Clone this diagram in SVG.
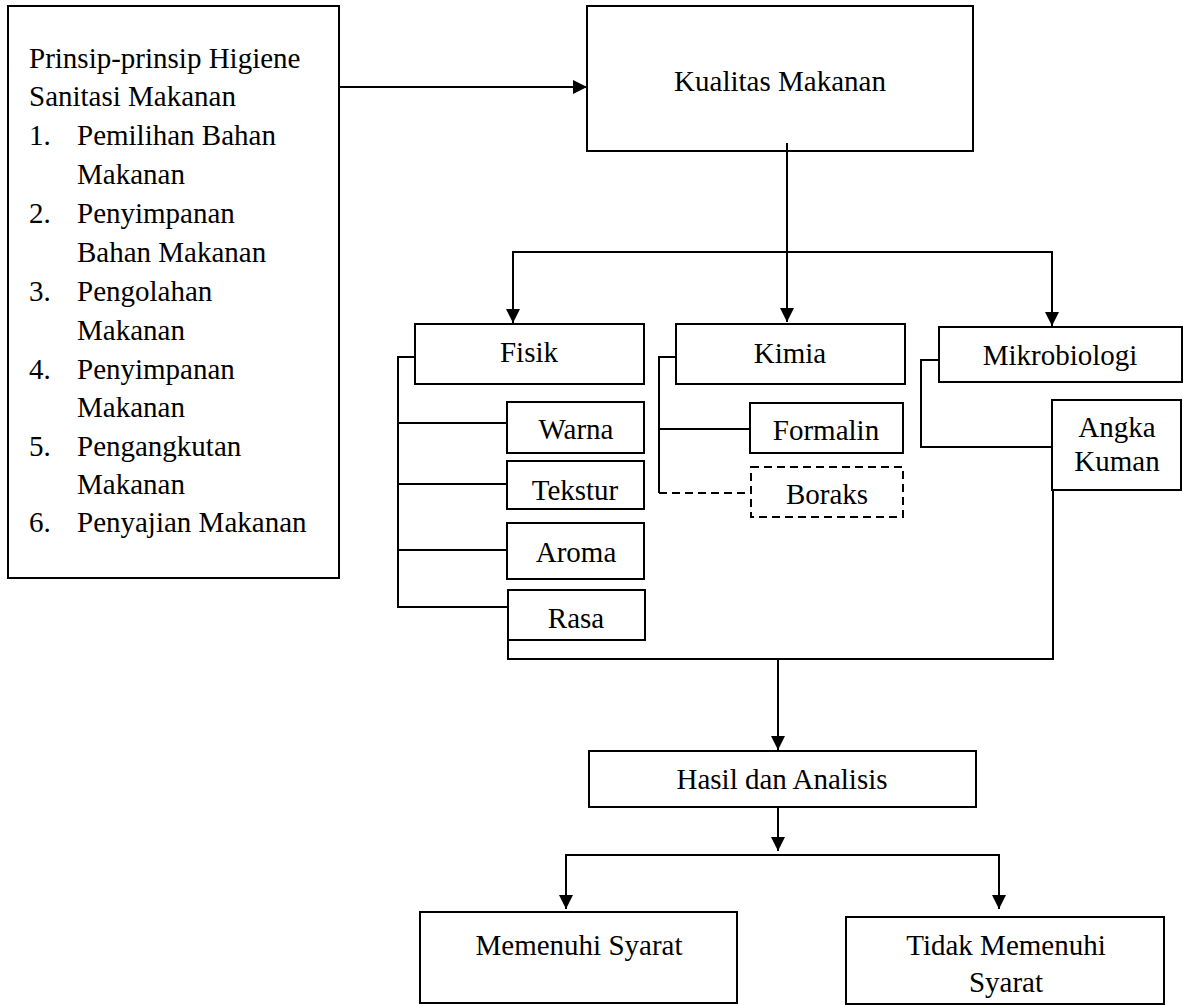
<svg xmlns="http://www.w3.org/2000/svg" width="1183" height="1005" viewBox="0 0 1183 1005">
<style>
.box{fill:#fff;stroke:#000;stroke-width:2}
.dash{fill:#fff;stroke:#000;stroke-width:2;stroke-dasharray:8 5}
.ln{fill:none;stroke:#000;stroke-width:2}
.dl{fill:none;stroke:#000;stroke-width:2;stroke-dasharray:8 5}
text{font-family:"Liberation Serif","Times New Roman",serif;font-size:29px;fill:#000}
.c{text-anchor:middle}
</style>
<defs>
<marker id="ah" markerUnits="userSpaceOnUse" markerWidth="15" markerHeight="15" refX="14" refY="7" orient="auto">
<path d="M0,0 L14,7 L0,14 z" fill="#000"/>
</marker>
</defs>
<rect width="1183" height="1005" fill="#fff"/>
<g id="connectors">
<line class="ln" x1="339" y1="87" x2="587" y2="87" marker-end="url(#ah)"/>
<line class="ln" x1="787" y1="143" x2="787" y2="322" marker-end="url(#ah)"/>
<line class="ln" x1="513" y1="252" x2="1052" y2="252"/>
<line class="ln" x1="513" y1="251" x2="513" y2="323" marker-end="url(#ah)"/>
<line class="ln" x1="1052" y1="251" x2="1052" y2="326" marker-end="url(#ah)"/>
<polyline class="ln" points="415,357 398,357 398,607 508,607"/>
<line class="ln" x1="398" y1="423" x2="507" y2="423"/>
<line class="ln" x1="398" y1="484" x2="507" y2="484"/>
<line class="ln" x1="398" y1="550" x2="507" y2="550"/>
<polyline class="ln" points="676,357 659,357 659,493"/>
<line class="ln" x1="659" y1="429" x2="750" y2="429"/>
<line class="dl" x1="659" y1="493" x2="751" y2="493"/>
<polyline class="ln" points="939,360 921,360 921,447 1052,447"/>
<polyline class="ln" points="508,640 508,659 1053,659 1053,490"/>
<line class="ln" x1="778" y1="659" x2="778" y2="750" marker-end="url(#ah)"/>
<line class="ln" x1="778" y1="807" x2="778" y2="851" marker-end="url(#ah)"/>
<line class="ln" x1="566" y1="855" x2="999" y2="855"/>
<line class="ln" x1="566" y1="854" x2="566" y2="909" marker-end="url(#ah)"/>
<line class="ln" x1="999" y1="854" x2="999" y2="909" marker-end="url(#ah)"/>
</g>
<g id="prinsip">
<rect class="box" x="8" y="6" width="331" height="572"/>
<text x="29" y="68">Prinsip-prinsip Higiene</text>
<text x="29" y="106">Sanitasi Makanan</text>
<text x="29" y="145">1.</text><text x="77" y="145">Pemilihan Bahan</text>
<text x="77" y="184">Makanan</text>
<text x="29" y="223">2.</text><text x="77" y="223">Penyimpanan</text>
<text x="77" y="262">Bahan Makanan</text>
<text x="29" y="301">3.</text><text x="77" y="301">Pengolahan</text>
<text x="77" y="340">Makanan</text>
<text x="29" y="379">4.</text><text x="77" y="379">Penyimpanan</text>
<text x="77" y="417">Makanan</text>
<text x="29" y="456">5.</text><text x="77" y="456">Pengangkutan</text>
<text x="77" y="494">Makanan</text>
<text x="29" y="532">6.</text><text x="77" y="532">Penyajian Makanan</text>
</g>
<g id="kualitas">
<rect class="box" x="587" y="6" width="386" height="145"/>
<text class="c" x="780" y="91">Kualitas Makanan</text>
</g>
<line class="ln" x1="787" y1="143" x2="787" y2="151"/>
<g id="fisik">
<rect class="box" x="415" y="324" width="229" height="60"/>
<text class="c" x="529" y="362">Fisik</text>
</g>
<g id="warna">
<rect class="box" x="507" y="402" width="137" height="51"/>
<text class="c" x="576" y="439">Warna</text>
</g>
<g id="tekstur">
<rect class="box" x="507" y="461" width="137" height="48"/>
<text class="c" x="575" y="500">Tekstur</text>
</g>
<g id="aroma">
<rect class="box" x="507" y="523" width="137" height="56"/>
<text class="c" x="576" y="562">Aroma</text>
</g>
<g id="rasa">
<rect class="box" x="508" y="590" width="137" height="50"/>
<text class="c" x="576" y="628">Rasa</text>
</g>
<g id="kimia">
<rect class="box" x="676" y="324" width="229" height="60"/>
<text class="c" x="790" y="363">Kimia</text>
</g>
<g id="formalin">
<rect class="box" x="750" y="403" width="153" height="50"/>
<text class="c" x="826" y="440">Formalin</text>
</g>
<g id="boraks">
<rect class="dash" x="751" y="467" width="152" height="50"/>
<text class="c" x="827" y="504">Boraks</text>
</g>
<g id="mikrobiologi">
<rect class="box" x="939" y="327" width="243" height="55"/>
<text class="c" x="1060" y="365">Mikrobiologi</text>
</g>
<g id="angka">
<rect class="box" x="1052" y="400" width="129" height="90"/>
<text class="c" x="1117" y="437">Angka</text>
<text class="c" x="1117" y="471">Kuman</text>
</g>
<g id="hasil">
<rect class="box" x="589" y="751" width="387" height="56"/>
<text class="c" x="782" y="789">Hasil dan Analisis</text>
</g>
<g id="memenuhi">
<rect class="box" x="420" y="912" width="317" height="91"/>
<text class="c" x="579" y="955">Memenuhi Syarat</text>
</g>
<g id="tidak">
<rect class="box" x="846" y="917" width="318" height="87"/>
<text class="c" x="1006" y="955">Tidak Memenuhi</text>
<text class="c" x="1006" y="992">Syarat</text>
</g>
</svg>
